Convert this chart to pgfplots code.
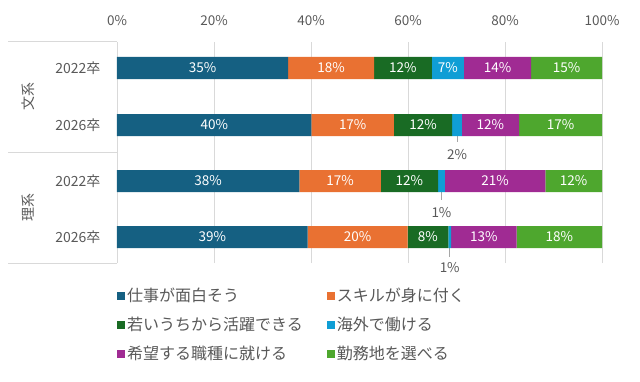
\documentclass[border=0pt]{standalone}
\usepackage{pgfplots}
\pgfplotsset{compat=1.18}
\usepackage{fontspec}
\setmainfont{Noto Sans CJK JP}
\definecolor{c1}{HTML}{156082}
\definecolor{c2}{HTML}{E97132}
\definecolor{c3}{HTML}{196B24}
\definecolor{c4}{HTML}{0F9ED5}
\definecolor{c5}{HTML}{A02B93}
\definecolor{c6}{HTML}{4EA72E}
\definecolor{txt}{HTML}{595959}
\definecolor{gridc}{HTML}{D9D9D9}
\begin{document}
\begin{tikzpicture}[x=1pt,y=1pt]
\useasboundingbox (0,0) rectangle (640,381);
% group box
\draw[gridc, line width=0.8pt] (8,340) -- (117,340);
\draw[gridc, line width=0.8pt] (8,229) -- (117,229);
\draw[gridc, line width=0.8pt] (8,118) -- (117,118);
\node[rotate=90, text=txt, font=\fontsize{14}{16}\selectfont] at (28,284) {文系};
\node[rotate=90, text=txt, font=\fontsize{14}{16}\selectfont] at (28,174) {理系};
\begin{axis}[
  at={(117pt,118pt)}, anchor=south west,
  width=485pt, height=221pt, scale only axis,
  clip=false,
  xbar stacked, bar width=22,
  xmin=0, xmax=100, ymin=0, ymax=221,
  xtick={0,20,40,60,80,100},
  xticklabel={\pgfmathprintnumber{\tick}\%},
  xticklabel pos=right,
  ytick={195,138,82,26},
  yticklabels={2022卒,2026卒,2022卒,2026卒},
  /pgf/number format/assume math mode=true,
  major tick length=0pt,
  axis line style={draw=none},
  xmajorgrids, grid style={gridc, line width=0.8pt},
  xticklabel style={text=txt, font=\fontsize{13.5}{16}\selectfont, yshift=13pt},
  yticklabel style={text=txt, font=\fontsize{14}{16}\selectfont, xshift=-13pt},
  point meta=explicit symbolic,
  nodes near coords,
  every node near coord/.append style={anchor=center, text=white,
    font=\fontsize{13.5}{16}\selectfont},
  legend columns=2,
  legend cell align=left,
  legend style={at={(0,-0.105)}, anchor=north west, draw=none, inner sep=0pt,
    font=\fontsize{16}{18}\selectfont, text=txt,
    /tikz/every even column/.append style={column sep=22pt},
    row sep=10pt},
  legend image code/.code={\fill[#1] (0pt,-4pt) rectangle (8pt,4pt);},
]
\addplot[fill=c1, draw=none] coordinates {(35.3,195) [35\%] (40.1,138) [40\%] (37.6,82) [38\%] (39.3,26) [39\%]};
\addplot[fill=c2, draw=none] coordinates {(17.7,195) [18\%] (17.0,138) [17\%] (16.8,82) [17\%] (20.6,26) [20\%]};
\addplot[fill=c3, draw=none] coordinates {(11.9,195) [12\%] (12.0,138) [12\%] (11.8,82) [12\%] (8.4,26) [8\%]};
\addplot[fill=c4, draw=none] coordinates {(6.6,195) [7\%] (2.0,138) [] (1.4,82) [] (0.6,26) []};
\addplot[fill=c5, draw=none] coordinates {(13.9,195) [14\%] (11.8,138) [12\%] (20.7,82) [21\%] (13.5,26) [13\%]};
\addplot[fill=c6, draw=none] coordinates {(14.6,195) [15\%] (17.1,138) [17\%] (11.7,82) [12\%] (17.6,26) [18\%]};
\legend{仕事が面白そう,スキルが身に付く,若いうちから活躍できる,海外で働ける,希望する職種に就ける,勤務地を選べる}
\draw[gray!70, line width=0.8pt] (axis cs:70.1,127) -- (axis cs:70.1,121);
\node[text=txt, font=\fontsize{13.5}{16}\selectfont] at (axis cs:70.1,108) {2\%};
\draw[gray!70, line width=0.8pt] (axis cs:66.9,71) -- (axis cs:66.9,63);
\node[text=txt, font=\fontsize{13.5}{16}\selectfont] at (axis cs:66.9,50) {1\%};
\draw[gray!70, line width=0.8pt] (axis cs:68.6,15) -- (axis cs:68.6,6);
\node[text=txt, font=\fontsize{13.5}{16}\selectfont] at (axis cs:68.6,-5) {1\%};
\end{axis}
\end{tikzpicture}
\end{document}
